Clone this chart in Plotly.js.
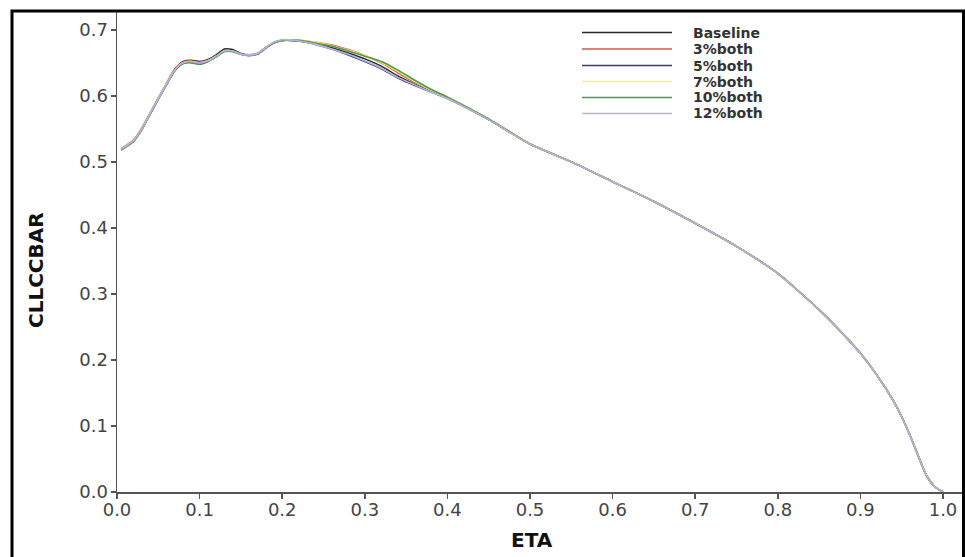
<!DOCTYPE html>
<html>
<head>
<meta charset="utf-8">
<script src="https://cdn.plot.ly/plotly-3.0.1.min.js"></script>
<style>html,body{margin:0;padding:0;background:#fff;}#chart{width:965px;height:557px;}</style>
</head>
<body>
<div id="chart"></div>
<script>
// ---- data ----
const eta = [0.005,0.01,0.02,0.03,0.04,0.05,0.06,0.07,0.08,0.09,0.10,0.11,0.12,0.13,0.14,0.15,0.16,0.17,0.18,0.19,0.20,0.22,0.24,0.26,0.28,0.30,0.32,0.34,0.36,0.38,0.40,0.45,0.50,0.55,0.60,0.65,0.70,0.75,0.80,0.85,0.88,0.90,0.92,0.94,0.95,0.96,0.97,0.98,0.99,1.00];

const seriesNames = ["Baseline","3%both","5%both","7%both","10%both","12%both"];
const seriesColors = ["#2a2a2a","#d9534f","#3b3b7a","#f5f56a","#4c9a4c","#b4b4dc"];

const baseline = [0.519,0.523,0.532,0.550,0.573,0.596,0.618,0.640,0.652,0.654,0.652,0.655,0.662,0.671,0.670,0.664,0.662,0.664,0.673,0.681,0.684,0.683,0.679,0.673,0.665,0.656,0.645,0.630,0.618,0.607,0.597,0.564,0.527,0.500,0.470,0.440,0.407,0.372,0.331,0.276,0.238,0.210,0.177,0.138,0.114,0.086,0.055,0.025,0.008,0.000];
const both3 = [0.520,0.524,0.533,0.551,0.574,0.597,0.619,0.641,0.651,0.653,0.651,0.654,0.660,0.668,0.668,0.663,0.662,0.664,0.673,0.681,0.684,0.684,0.681,0.677,0.670,0.661,0.650,0.635,0.621,0.609,0.598,0.565,0.527,0.500,0.470,0.440,0.407,0.372,0.331,0.276,0.238,0.210,0.177,0.138,0.114,0.086,0.055,0.025,0.008,0.000];
const both5 = [0.518,0.522,0.531,0.549,0.572,0.595,0.617,0.638,0.649,0.651,0.648,0.652,0.659,0.668,0.668,0.663,0.661,0.663,0.672,0.680,0.684,0.683,0.678,0.671,0.662,0.652,0.641,0.627,0.616,0.606,0.596,0.564,0.527,0.500,0.470,0.440,0.407,0.372,0.331,0.276,0.238,0.210,0.177,0.138,0.114,0.086,0.055,0.025,0.008,0.000];
const both7 = [0.519,0.523,0.532,0.550,0.573,0.596,0.618,0.639,0.650,0.652,0.650,0.653,0.660,0.668,0.668,0.663,0.662,0.664,0.673,0.681,0.684,0.684,0.681,0.676,0.669,0.661,0.651,0.637,0.622,0.609,0.598,0.565,0.527,0.500,0.470,0.440,0.407,0.372,0.331,0.276,0.238,0.210,0.177,0.138,0.114,0.086,0.055,0.025,0.008,0.000];
const both10 = [0.518,0.522,0.531,0.549,0.572,0.595,0.617,0.638,0.649,0.650,0.648,0.652,0.659,0.667,0.667,0.663,0.662,0.664,0.673,0.681,0.684,0.684,0.680,0.675,0.668,0.660,0.652,0.639,0.624,0.610,0.598,0.565,0.527,0.500,0.470,0.440,0.407,0.372,0.331,0.276,0.238,0.210,0.177,0.138,0.114,0.086,0.055,0.025,0.008,0.000];
const both12 = [0.519,0.523,0.532,0.550,0.573,0.596,0.618,0.639,0.650,0.652,0.650,0.653,0.660,0.668,0.668,0.663,0.662,0.664,0.673,0.681,0.685,0.683,0.678,0.671,0.663,0.653,0.642,0.628,0.617,0.606,0.596,0.564,0.527,0.500,0.470,0.440,0.407,0.372,0.331,0.276,0.238,0.210,0.177,0.138,0.114,0.086,0.055,0.025,0.008,0.000];

const xTickVals = [0,0.1,0.2,0.3,0.4,0.5,0.6,0.7,0.8,0.9,1.0];
const xTickText = ["0.0","0.1","0.2","0.3","0.4","0.5","0.6","0.7","0.8","0.9","1.0"];
const yTickVals = [0,0.1,0.2,0.3,0.4,0.5,0.6,0.7];
const yTickText = ["0.0","0.1","0.2","0.3","0.4","0.5","0.6","0.7"];

const allY = [baseline, both3, both5, both7, both10, both12];

// ---- layout geometry ----
const W = 965, H = 557;
const M = {l:117, r:3, t:12, b:65};
const PW = W - M.l - M.r, PH = H - M.t - M.b;
const px = x => (x - M.l) / PW;
const py = y => (H - M.b - y) / PH;

const traces = allY.map((ys, i) => ({
  type: 'scatter', mode: 'lines', x: eta, y: ys, name: seriesNames[i],
  line: {color: seriesColors[i], width: 1.6, shape: 'spline', smoothing: 0.6},
  showlegend: false, hoverinfo: 'skip'
}));

const titleFont = 'DejaVu Sans, Liberation Sans, Arial, sans-serif';
const shapes = [
  {type:'rect', xref:'paper', yref:'paper', x0:px(12), x1:px(963.5), y0:py(11), y1:py(580),
   line:{color:'#000', width:3}, fillcolor:'rgba(0,0,0,0)', layer:'above'}
];
const annotations = [
  {text:'<b>ETA</b>', xref:'paper', yref:'paper', x:px(532), y:py(540), showarrow:false,
   font:{family:titleFont, size:20, color:'#111'}, xanchor:'center', yanchor:'middle'},
  {text:'<b>CLLCCBAR</b>', xref:'paper', yref:'paper', x:px(36), y:py(270), showarrow:false, textangle:-90,
   font:{family:titleFont, size:20, color:'#111'}, xanchor:'center', yanchor:'middle'}
];
const legRows = [32.5, 49, 65.5, 81.5, 97.5, 113.5];
seriesNames.forEach((n, i) => {
  shapes.push({type:'line', xref:'paper', yref:'paper', x0:px(582), x1:px(672), y0:py(legRows[i]), y1:py(legRows[i]),
    line:{color:seriesColors[i], width:1.6}});
  annotations.push({text:'<b>'+n+'</b>', xref:'paper', yref:'paper', x:px(691), y:py(legRows[i]), showarrow:false,
    xanchor:'left', yanchor:'middle', font:{family:titleFont, size:14, color:'#333'}});
});

const axFont = {family:'DejaVu Sans, Liberation Sans, Arial, sans-serif', size:18, color:'#444'};
const layout = {
  width: W, height: H,
  margin: M,
  paper_bgcolor:'#fff', plot_bgcolor:'#fff',
  showlegend:false,
  xaxis: {range:[0,1.023], tickvals:xTickVals, ticktext:xTickText, ticks:'outside', ticklen:5, tickwidth:1.5,
    tickcolor:'#555', showline:true, linecolor:'#555', linewidth:1.5, showgrid:false, zeroline:false,
    tickfont:axFont, ticklabelstandoff:-4, fixedrange:true},
  yaxis: {range:[0,0.727], tickvals:yTickVals, ticktext:yTickText, ticks:'outside', ticklen:5, tickwidth:1.5,
    tickcolor:'#555', showline:true, linecolor:'#555', linewidth:1.5, showgrid:false, zeroline:false,
    tickfont:axFont, ticklabelstandoff:-1, fixedrange:true},
  shapes: shapes,
  annotations: annotations
};
Plotly.newPlot('chart', traces, layout, {staticPlot:true, displayModeBar:false});
</script>
</body>
</html>
